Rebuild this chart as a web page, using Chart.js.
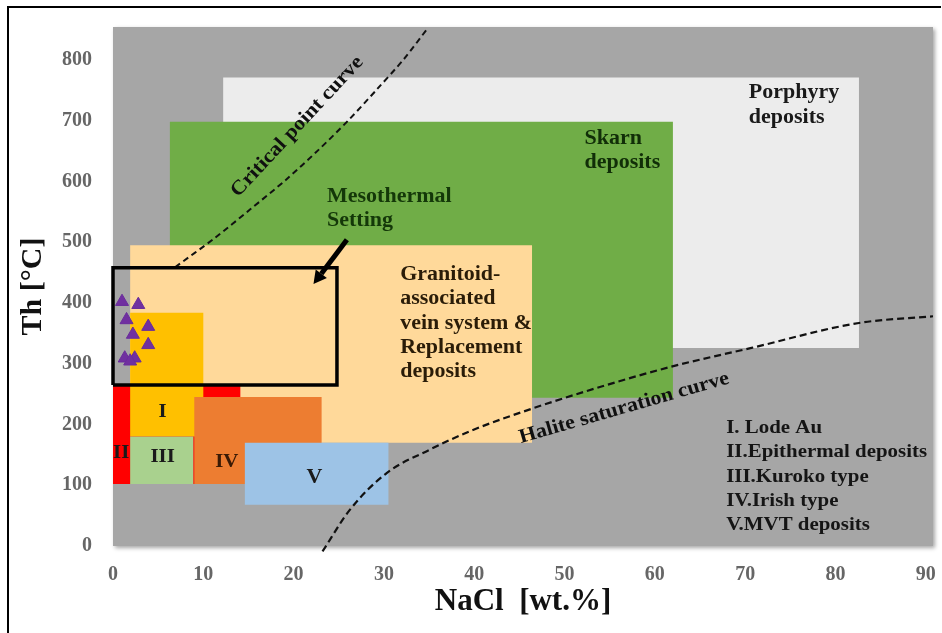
<!DOCTYPE html>
<html><head><meta charset="utf-8">
<script src="https://cdn.jsdelivr.net/npm/chart.js@4/dist/chart.umd.min.js"></script>
<style>html,body{margin:0;padding:0;background:#fff;}#wrap{width:942px;height:633px;position:relative;}</style>
</head><body><div id="wrap"><canvas id="c"></canvas></div>
<script>
// ---------------- DATA ----------------
const xTicks = [0, 10, 20, 30, 40, 50, 60, 70, 80, 90];
const yTicks = [0, 100, 200, 300, 400, 500, 600, 700, 800];

// Deposit fields (bottom → top drawing order): NaCl wt.% range and Th °C range
const fieldNames = ["Porphyry deposits", "Skarn deposits", "Granitoid-associated vein system & Replacement deposits",
                    "II. Epithermal deposits", "I. Lode Au", "III. Kuroko type", "IV. Irish type", "V. MVT deposits"];
const fieldXMin = [12.2, 6.3, 1.9, 0.0, 1.9, 1.9, 9.0, 14.6];
const fieldXMax = [82.6, 62.0, 46.4, 14.1, 10.0, 8.9, 23.1, 30.5];
const fieldYMin = [326, 244, 170, 102, 180, 102, 102, 68];
const fieldYMax = [771, 698, 495, 266, 384, 180, 245, 170];

// Mesothermal setting box
const mesoX = [0, 24.8];
const mesoY = [265, 458];
// Arrow (from label to box)
const arrowFrom = [25.9, 504];
const arrowTo = [22.2, 431];

// Critical point curve
const criticalX = [6.9, 11.2, 15.2, 19.1, 22.7, 26.1, 29.2, 32.2, 34.9];
const criticalY = [459, 506, 554, 602, 651, 701, 751, 801, 853];
// Halite saturation curve
const haliteX = [23.2, 26.2, 30.3, 35.0, 39.7, 46.6, 54.0, 61.8, 70.7, 82.6, 90.8];
const haliteY = [-9, 59, 120, 158, 190, 227, 262, 295, 326, 367, 378];

// Fluid inclusion measurements (this study)
const sampleX = [1.0, 2.8, 1.5, 3.9, 2.2, 3.9, 1.3, 2.4, 1.9];
const sampleY = [402, 397, 372, 361, 348, 331, 309, 309, 304];

// ---------------- STYLE ----------------
const fieldColors = ["#ececec", "#70ad47", "#ffd99a", "#ff0000", "#ffc000", "#a9d18e", "#ed7d31", "#9dc3e6"];
const SERIF = '"Liberation Serif", "Times New Roman", serif';
const STRETCH = 1.1;

// text annotations (anchors in data units)
const notes = [
  {lines: ["Porphyry", "deposits"], x: 70.4, y: 745, color: "#1a1a1a", align: "left", size: 20},
  {lines: ["Skarn", "deposits"], x: 52.2, y: 670, color: "#112e08", align: "left", size: 20},
  {lines: ["Mesothermal", "Setting"], x: 23.7, y: 575, color: "#143809", align: "left", size: 20},
  {lines: ["Granitoid-", "associated", "vein system &", "Replacement", "deposits"], x: 31.8, y: 446, color: "#2a1c08", align: "left", size: 20},
  {lines: ["I. Lode Au", "II.Epithermal deposits", "III.Kuroko type", "IV.Irish type", "V.MVT deposits"], x: 67.9, y: 194, color: "#151515", align: "left", size: 19},
  {lines: ["I"], x: 5.5, y: 221, color: "#1a1a1a", align: "center", size: 19},
  {lines: ["II"], x: 0.9, y: 153, color: "#1a1a1a", align: "center", size: 19},
  {lines: ["III"], x: 5.5, y: 147, color: "#1a1a1a", align: "center", size: 19},
  {lines: ["IV"], x: 12.6, y: 138, color: "#3a1a05", align: "center", size: 19},
  {lines: ["V"], x: 22.3, y: 112, color: "#1a1a1a", align: "center", size: 20},
  {lines: ["Critical point curve"], x: 20.4, y: 690, color: "#101010", align: "center", size: 20, rot: -47},
  {lines: ["Halite saturation curve"], x: 56.6, y: 227, color: "#101010", align: "center", size: 20, rot: -16}
];

// ---------------- BUILD ----------------
const rectPts = (x0, x1, y0, y1) => [{x: x0, y: y0}, {x: x1, y: y0}, {x: x1, y: y1}, {x: x0, y: y1}, {x: x0, y: y0}];
const datasets = [];
fieldNames.forEach((n, i) => {
  datasets.push({
    label: n, data: rectPts(fieldXMin[i], fieldXMax[i], fieldYMin[i], fieldYMax[i]),
    showLine: true, fill: 'shape', backgroundColor: fieldColors[i], borderColor: 'rgba(0,0,0,0)',
    borderWidth: 0, pointRadius: 0, tension: 0
  });
});
datasets.push({label: "Halite saturation curve", data: haliteX.map((x, i) => ({x, y: haliteY[i]})),
  showLine: true, fill: false, borderColor: "#111", borderWidth: 2.2, borderDash: [7, 4], pointRadius: 0,
  cubicInterpolationMode: 'monotone', clip: false});
datasets.push({label: "Critical point curve", data: criticalX.map((x, i) => ({x, y: criticalY[i]})),
  showLine: true, fill: false, borderColor: "#111", borderWidth: 2, borderDash: [6, 4], pointRadius: 0,
  tension: 0.3});
datasets.push({label: "Mesothermal Setting", data: rectPts(mesoX[0], mesoX[1], mesoY[0], mesoY[1]),
  showLine: true, fill: false, borderColor: "#000", borderWidth: 3.5, pointRadius: 0, tension: 0, clip: false});
datasets.push({label: "Samples", data: sampleX.map((x, i) => ({x, y: sampleY[i]})),
  showLine: false, pointStyle: 'triangle', pointRadius: 7.5, backgroundColor: "#7030a0", borderColor: "#6a2c9c", borderWidth: 1});
datasets.forEach((d, i) => { d.order = datasets.length - i; });

const bgPlugin = {
  id: 'bg',
  beforeDraw(chart) {
    const {ctx, chartArea: a} = chart;
    ctx.save();
    ctx.strokeStyle = "#000"; ctx.lineWidth = 2;
    ctx.beginPath(); ctx.moveTo(8, 633); ctx.lineTo(8, 7); ctx.lineTo(941, 7); ctx.stroke();
    ctx.shadowColor = "rgba(0,0,0,0.35)"; ctx.shadowBlur = 4; ctx.shadowOffsetX = 1.5; ctx.shadowOffsetY = 2;
    ctx.fillStyle = "#a6a6a6";
    ctx.fillRect(a.left, a.top, a.right - a.left, a.bottom - a.top);
    ctx.restore();
  }
};

const notePlugin = {
  id: 'notes',
  afterDatasetsDraw(chart) {
    const {ctx, scales: {x, y}} = chart;
    ctx.save();
    // arrow
    const x0 = x.getPixelForValue(arrowFrom[0]), y0 = y.getPixelForValue(arrowFrom[1]);
    const x1 = x.getPixelForValue(arrowTo[0]), y1 = y.getPixelForValue(arrowTo[1]);
    const ang = Math.atan2(y1 - y0, x1 - x0);
    const headL = 13, headW = 7;
    const bx = x1 - headL * Math.cos(ang), by = y1 - headL * Math.sin(ang);
    ctx.strokeStyle = "#000"; ctx.fillStyle = "#000"; ctx.lineWidth = 5;
    ctx.beginPath(); ctx.moveTo(x0, y0); ctx.lineTo(bx, by); ctx.stroke();
    ctx.beginPath();
    ctx.moveTo(x1, y1);
    ctx.lineTo(bx + headW * Math.sin(ang), by - headW * Math.cos(ang));
    ctx.lineTo(bx - headW * Math.sin(ang), by + headW * Math.cos(ang));
    ctx.closePath(); ctx.fill();
    // texts
    ctx.textBaseline = 'middle';
    notes.forEach(n => {
      const px = x.getPixelForValue(n.x), py = y.getPixelForValue(n.y);
      ctx.font = `bold ${n.size}px ${SERIF}`;
      ctx.fillStyle = n.color;
      ctx.textAlign = n.align;
      n.lines.forEach((t, k) => {
        ctx.save();
        ctx.translate(px, py);
        ctx.rotate((n.rot || 0) * Math.PI / 180);
        ctx.scale(STRETCH, 1);
        ctx.fillText(t, 0, k * 24.3);
        ctx.restore();
      });
    });
    ctx.restore();
  }
};

const noPad = s => { s.paddingLeft = 0; s.paddingRight = 0; s.paddingTop = 0; s.paddingBottom = 0; };

new Chart(document.getElementById('c'), {
  type: 'scatter',
  data: {datasets},
  options: {
    responsive: true, maintainAspectRatio: false, animation: false,
    layout: {padding: {left: 0, top: 27, right: 9, bottom: 0}},
    plugins: {legend: {display: false}, tooltip: {enabled: false}},
    scales: {
      x: {
        type: 'linear', min: 0, max: 90.8,
        afterBuildTicks: s => { s.ticks = xTicks.map(v => ({value: v})); },
        afterFit: s => { s.height = 87; noPad(s); },
        grid: {display: false, drawTicks: false}, border: {display: false},
        ticks: {padding: 17, color: "#666", font: {family: SERIF, size: 20, weight: 'bold'}},
        title: {display: true, text: "NaCl  [wt.%]", color: "#111", font: {family: SERIF, size: 31, weight: 'bold'}, padding: {top: 0, bottom: 12}}
      },
      y: {
        type: 'linear', min: 0, max: 854,
        afterBuildTicks: s => { s.ticks = yTicks.map(v => ({value: v})); },
        afterFit: s => { s.width = 113; noPad(s); },
        grid: {display: false, drawTicks: false}, border: {display: false},
        ticks: {padding: 21, color: "#666", font: {family: SERIF, size: 20, weight: 'bold'}},
        title: {display: true, text: "Th [°C]", color: "#111", font: {family: SERIF, size: 30, weight: 'bold'}, padding: {top: 15, bottom: 0}}
      }
    }
  },
  plugins: [bgPlugin, notePlugin]
});
</script></body></html>
